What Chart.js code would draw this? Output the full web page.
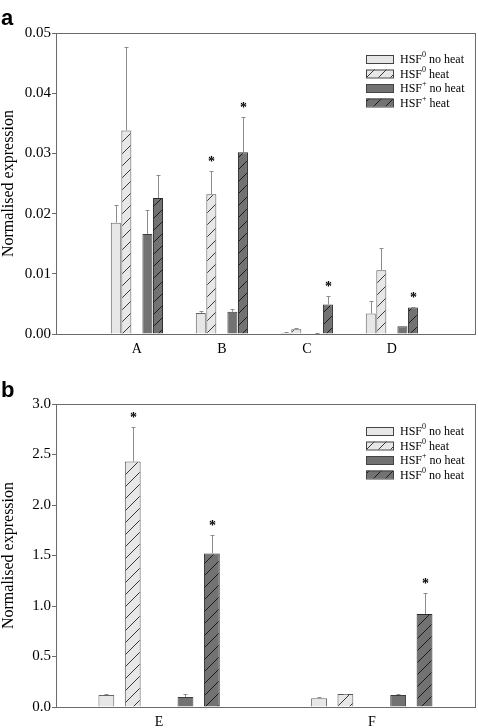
<!DOCTYPE html>
<html>
<head>
<meta charset="utf-8">
<script src="https://cdn.jsdelivr.net/npm/chart.js@4"></script>
<style>
  html, body { margin: 0; padding: 0; background: #fff; }
  .box { position: relative; width: 478px; }
</style>
</head>
<body>
<div class="box" style="height:360px"><canvas id="chartA"></canvas></div>
<div class="box" style="height:368px"><canvas id="chartB"></canvas></div>
<script>
// ---- panel a data ----
const catsA = ['A', 'B', 'C', 'D'];
const hsf0NoHeatA = [0.0185, 0.0035, 0.0002, 0.0034];
const hsf0NoHeatErrA = [0.0029, 0.0004, 0.0001, 0.0020];
const hsf0HeatA = [0.0338, 0.0232, 0.0008, 0.0106];
const hsf0HeatErrA = [0.0138, 0.0038, 0.0002, 0.0037];
const hsfPNoHeatA = [0.0166, 0.0037, 0.0001, 0.0013];
const hsfPNoHeatErrA = [0.0040, 0.0004, 0.0000, 0.0001];
const hsfPHeatA = [0.0226, 0.0302, 0.0049, 0.0044];
const hsfPHeatErrA = [0.0038, 0.0058, 0.0014, 0.0001];
const starsA = [
  [false, false, false, false],
  [false, true, false, false],
  [false, false, false, false],
  [false, true, true, true]
];
const yTicksA = [0, 0.01, 0.02, 0.03, 0.04, 0.05];
const legendSupA = ['0', '0', '+', '+'];
const legendTextA = ['no heat', 'heat', 'no heat', 'heat'];

// ---- panel b data ----
const catsB = ['E', 'F'];
const hsf0NoHeatB = [0.12, 0.086];
const hsf0NoHeatErrB = [0.008, 0.009];
const hsf0HeatB = [2.43, 0.128];
const hsf0HeatErrB = [0.34, 0.005];
const hsfPNoHeatB = [0.10, 0.119];
const hsfPNoHeatErrB = [0.025, 0.012];
const hsfPHeatB = [1.52, 0.92];
const hsfPHeatErrB = [0.18, 0.205];
const starsB = [
  [false, false],
  [true, false],
  [false, false],
  [true, true]
];
const yTicksB = [0, 0.5, 1.0, 1.5, 2.0, 2.5, 3.0];
const legendSupB = ['0', '0', '+', '0'];
const legendTextB = ['no heat', 'heat', 'no heat', 'no heat'];

const SERIF = '"Liberation Serif", "Times New Roman", serif';
const LIGHT = '#e7e7e7';
const DARK = '#727272';

function hatch(fill, line) {
  const c = document.createElement('canvas');
  c.width = 12; c.height = 12;
  const g = c.getContext('2d');
  g.fillStyle = fill;
  g.fillRect(0, 0, 12, 12);
  g.strokeStyle = line;
  g.lineWidth = 0.9;
  g.beginPath();
  g.moveTo(0, 12); g.lineTo(12, 0);
  g.moveTo(-2, 2); g.lineTo(2, -2);
  g.moveTo(10, 14); g.lineTo(14, 10);
  g.stroke();
  return g.createPattern(c, 'repeat');
}

// upper error bars + significance stars
const errorBars = {
  id: 'errorBars',
  afterDatasetsDraw(chart) {
    const ctx = chart.ctx;
    const y = chart.scales.y;
    chart.data.datasets.forEach((ds, i) => {
      if (!ds.errors) return;
      chart.getDatasetMeta(i).data.forEach((bar, j) => {
        const top = Math.round(y.getPixelForValue(ds.data[j].y + ds.errors[j])) + 0.5;
        const x = Math.round(bar.x) + 0.5;
        ctx.save();
        ctx.strokeStyle = '#8c8c8c';
        ctx.lineWidth = 1;
        ctx.beginPath();
        ctx.moveTo(x, bar.y);
        ctx.lineTo(x, top);
        ctx.moveTo(x - 2, top);
        ctx.lineTo(x + 2, top);
        ctx.stroke();
        if (ds.stars[j]) {
          ctx.fillStyle = '#000';
          ctx.font = 'bold 14px ' + SERIF;
          ctx.textAlign = 'center';
          ctx.textBaseline = 'middle';
          ctx.fillText('*', x, top - 9);
        }
        ctx.restore();
      });
    });
  }
};

// frame, legend and panel letter
const decor = {
  id: 'decor',
  afterDraw(chart, args, opts) {
    const ctx = chart.ctx;
    const a = chart.chartArea;
    ctx.save();
    ctx.strokeStyle = '#6b6b6b';
    ctx.lineWidth = 1;
    ctx.strokeRect(Math.round(a.left) - 0.5, Math.round(a.top) + 0.5,
      Math.round(a.right - a.left), Math.round(a.bottom - a.top));

    ctx.fillStyle = '#000';
    ctx.font = 'bold 22px "Liberation Sans", Arial, sans-serif';
    ctx.textBaseline = 'alphabetic';
    ctx.fillText(opts.letter, 1, opts.letterY);

    let ly = a.top + opts.legendTop;
    const lx = a.right - 110;
    opts.sups.forEach((sup, k) => {
      ctx.fillStyle = opts.fills[k];
      ctx.fillRect(lx, ly - 4, 27, 8);
      ctx.strokeStyle = '#444';
      ctx.strokeRect(lx + 0.5, ly - 3.5, 27, 8);
      ctx.fillStyle = '#000';
      ctx.textBaseline = 'middle';
      let tx = lx + 34;
      ctx.font = '12px ' + SERIF;
      ctx.fillText('HSF', tx, ly + 1);
      tx += ctx.measureText('HSF').width;
      ctx.font = '8px ' + SERIF;
      ctx.fillText(sup, tx, ly - 4);
      tx += ctx.measureText(sup).width + 3;
      ctx.font = '12px ' + SERIF;
      ctx.fillText(opts.texts[k], tx, ly + 1);
      ly += 14.5;
    });
    ctx.restore();
  }
};

function makeChart(id, cats, series, errs, stars, yTicks, yMax, xMin, xMax, barPct, padTop, xHeight, legend) {
  const fills = [LIGHT, hatch(LIGHT, '#222'), DARK, hatch(DARK, '#111')];
  const borders = ['#666', '#555', '#3c3c3c', '#2a2a2a'];
  const datasets = [];
  series.forEach((vals, k) => {
    datasets.push({
      data: vals.map((v, i) => ({ x: i, y: v })),
      errors: errs[k],
      stars: stars[k],
      backgroundColor: fills[k],
      borderColor: borders[k],
      borderWidth: 1,
      categoryPercentage: 0.62,
      barPercentage: barPct
    });
    if (k === 1) {
      // empty slot between the HSF0 and HSF+ pairs
      datasets.push({ data: cats.map((c, i) => ({ x: i, y: null })), categoryPercentage: 0.62, barPercentage: barPct });
    }
  });

  return new Chart(document.getElementById(id), {
    type: 'bar',
    data: { datasets: datasets },
    options: {
      responsive: true,
      maintainAspectRatio: false,
      animation: false,
      layout: { padding: { top: padTop, right: 2, left: 0, bottom: 0 } },
      plugins: {
        legend: { display: false },
        tooltip: { enabled: false },
        decor: {
          letter: legend.letter,
          letterY: legend.letterY,
          legendTop: legend.top,
          sups: legend.sups,
          texts: legend.texts,
          fills: fills
        }
      },
      scales: {
        x: {
          type: 'linear',
          min: xMin,
          max: xMax,
          offset: false,
          afterBuildTicks: s => { s.ticks = cats.map((c, i) => ({ value: i })); },
          afterFit: s => { s.height = xHeight; },
          grid: { display: false, drawTicks: false },
          border: { display: false },
          ticks: {
            callback: v => cats[v] ?? '',
            color: '#000',
            padding: 7,
            maxRotation: 0,
            font: { family: SERIF, size: 14 }
          }
        },
        y: {
          min: 0,
          max: yMax,
          afterBuildTicks: s => { s.ticks = yTicks.map(v => ({ value: v })); },
          afterFit: s => { s.width = 57; },
          grid: { drawOnChartArea: false, drawTicks: true, tickLength: 5, color: '#6b6b6b' },
          border: { display: false },
          ticks: {
            color: '#000',
            padding: 1,
            font: { family: SERIF, size: 15 },
            callback: v => v.toFixed(yMax < 1 ? 2 : 1)
          },
          title: {
            display: true,
            text: 'Normalised expression',
            color: '#000',
            padding: { top: -1, bottom: 0 },
            font: { family: SERIF, size: 16 }
          }
        }
      }
    },
    plugins: [errorBars, decor]
  });
}

makeChart('chartA', catsA,
  [hsf0NoHeatA, hsf0HeatA, hsfPNoHeatA, hsfPHeatA],
  [hsf0NoHeatErrA, hsf0HeatErrA, hsfPNoHeatErrA, hsfPHeatErrA],
  starsA, yTicksA, 0.05, -0.94, 3.99, 0.95, 33, 26,
  { letter: 'a', letterY: 25, top: 26, sups: legendSupA, texts: legendTextA });

makeChart('chartB', catsB,
  [hsf0NoHeatB, hsf0HeatB, hsfPNoHeatB, hsfPHeatB],
  [hsf0NoHeatErrB, hsf0HeatErrB, hsfPNoHeatErrB, hsfPHeatErrB],
  starsB, yTicksB, 3.0, -0.48, 1.49, 0.6, 44, 21,
  { letter: 'b', letterY: 37, top: 27, sups: legendSupB, texts: legendTextB });
</script>
</body>
</html>
